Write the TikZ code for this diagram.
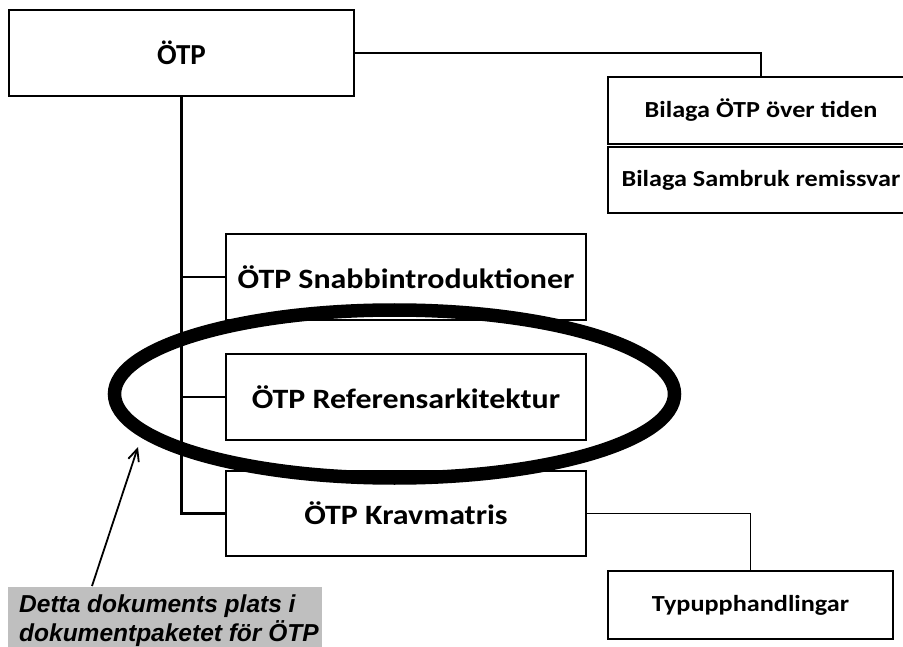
\documentclass[tikz,border=0pt]{standalone}
\usepackage{fontspec}
\setmainfont{Carlito}
\newfontfamily\boxfont[FakeStretch=1.14]{Carlito}
\newfontfamily\notefont{Liberation Sans}
\usetikzlibrary{arrows.meta}
\begin{document}
\begin{tikzpicture}[x=1pt,y=-1pt,
  box/.style={draw=black,line width=1.6pt,fill=white,rectangle,inner sep=0pt,
    font=\boxfont\bfseries\fontsize{28}{32}\selectfont},
  smallbox/.style={box,font=\boxfont\bfseries\fontsize{23}{27}\selectfont},
  link/.style={draw=black,line width=1.3pt},
  trunk/.style={draw=black,line width=2.4pt},
  ring/.style={draw=black,line width=13.5pt},
  notebg/.style={fill=black!25,rectangle,anchor=north west,inner sep=0pt,
    minimum width=314pt,minimum height=64pt},
  note/.style={anchor=north west,inner sep=0pt,align=left,
    font=\notefont\bfseries\itshape\fontsize{24.5}{29}\selectfont}]
\useasboundingbox (0,0) rectangle (903,647);
\clip (0,0) rectangle (903,647);

% boxes
\node[box,font=\bfseries\fontsize{29}{32}\selectfont,
      minimum width=345pt,minimum height=86pt] (otp) at (181.5,53) {ÖTP};
\node[smallbox,minimum width=306pt,minimum height=67pt] (bil1) at (761,110.5) {Bilaga ÖTP över tiden};
\node[smallbox,minimum width=306pt,minimum height=66pt] (bil2) at (761,180) {Bilaga Sambruk remissvar};
\node[box,minimum width=360pt,minimum height=86pt] (snab) at (406,277) {ÖTP Snabbintroduktioner};
\node[box,minimum width=360pt,minimum height=86pt] (ref) at (406,397) {ÖTP Referensarkitektur};
\node[box,minimum width=360pt,minimum height=85pt] (krav) at (406,513.5) {ÖTP Kravmatris};
\node[smallbox,minimum width=285pt,minimum height=68pt] (typ) at (750.5,605) {Typupphandlingar};

% connectors
\draw[link] (otp.east) -| (bil1.north);
\draw[trunk] (otp.south) |- (krav.west);
\draw[link] (otp.south |- snab.west) -- (snab.west);
\draw[link] (otp.south |- ref.west) -- (ref.west);
\draw[link] (krav.east) -| (typ.north);

% highlight ring
\draw[ring] (394.5,394) ellipse [x radius=280, y radius=84];

% note and pointer
\node[notebg] (lblbg) at (8,587) {};
\node[note] (lbl) at (19,595) {Detta dokuments plats i\\dokumentpaketet för ÖTP};
\coordinate (tail) at (92,586);
\coordinate (tip) at (138,447);
\draw[line width=1.8pt,-{Straight Barb[length=12pt,width=11pt,line width=1.8pt]}] (tail) -- (tip);
\end{tikzpicture}
\end{document}
